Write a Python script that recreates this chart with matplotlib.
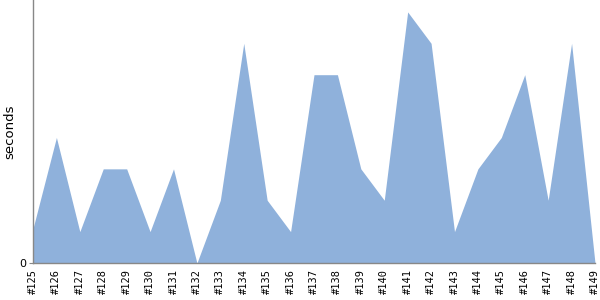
import matplotlib
matplotlib.use("Agg")
import matplotlib.pyplot as plt

builds = ["#125", "#126", "#127", "#128", "#129", "#130", "#131", "#132", "#133", "#134",
          "#135", "#136", "#137", "#138", "#139", "#140", "#141", "#142", "#143", "#144",
          "#145", "#146", "#147", "#148", "#149"]
seconds = [1.1, 4, 1, 3, 3, 1, 3, 0, 2, 7, 2, 1, 6, 6, 3, 2, 8, 7, 1, 3, 4, 6, 2, 7, 0]

fig = plt.figure(figsize=(6, 3), dpi=100)
ax = fig.add_axes([33/600, 37/300, (595-33)/600, 263/300])
x = list(range(len(builds)))
ax.fill_between(x, seconds, 0, color="#8fb1db", linewidth=0)
ax.set_xlim(0, len(builds) - 1)
ax.set_ylim(0, 8.38)
ax.set_xticks(x)
ax.set_xticklabels(builds, rotation=90, fontsize=7.5, family="DejaVu Sans Mono")
ax.set_yticks([0])
ax.set_yticklabels(["0"], fontsize=8)
ax.tick_params(axis="x", length=0, pad=4)
ax.tick_params(axis="y", length=3, color="#888888", pad=2)
ax.set_ylabel("seconds", fontsize=9.5)
ax.yaxis.set_label_coords(-0.029, 0.5)
for s in ["top", "right"]:
    ax.spines[s].set_visible(False)
for s in ["left", "bottom"]:
    ax.spines[s].set_color("#888888")
    ax.spines[s].set_linewidth(1)
fig.savefig("out.png", dpi=100)
